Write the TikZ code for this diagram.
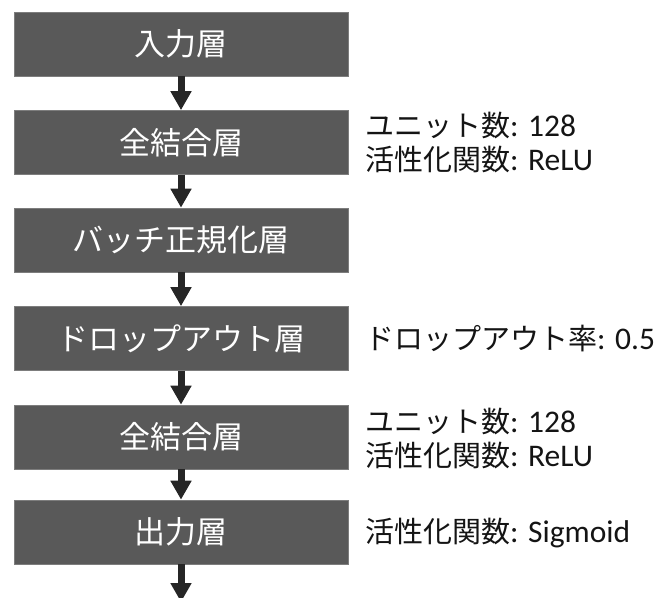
\documentclass[tikz,border=0pt]{standalone}
\usepackage{fontspec}
\setmainfont{Carlito}
\newfontfamily\cjk{Noto Sans CJK JP}
\newcommand\jptext[1]{{\cjk\fontsize{29}{34}\selectfont #1}}
\usetikzlibrary{arrows.meta}
\definecolor{boxfill}{RGB}{89,89,89}
\definecolor{boxedge}{RGB}{125,125,125}
\definecolor{arrowc}{RGB}{38,38,38}
\definecolor{labelc}{RGB}{20,20,20}
\tikzset{
  layer/.style={rectangle, fill=boxfill, draw=boxedge, line width=0.7pt,
    minimum width=334pt, minimum height=64pt, inner sep=0pt,
    text=white, font=\cjk\fontsize{31}{36}\selectfont},
  note/.style={anchor=west, inner sep=0pt, align=left, text=labelc,
    font=\fontsize{31.5}{34}\selectfont},
  flow/.style={draw=arrowc, line width=7pt,
    -{Triangle[width=20pt,length=19pt]}, arrowc}
}
\begin{document}
\begin{tikzpicture}[x=1pt,y=-1pt]
\useasboundingbox (0,0) rectangle (655,597);
\node[layer] (b1) at (181,44) {入力層};
\node[layer] (b2) at (181,142.5) {全結合層};
\node[layer] (b3) at (181,240) {バッチ正規化層};
\node[layer] (b4) at (181,338.5) {ドロップアウト層};
\node[layer] (b5) at (181,437) {全結合層};
\node[layer] (b6) at (181,532) {出力層};
\coordinate (end) at (181,602);
\draw[flow] (b1) -- (b2);
\draw[flow] (b2) -- (b3);
\draw[flow] (b3) -- (b4);
\draw[flow] (b4) -- (b5);
\draw[flow] (b5) -- (b6);
\draw[flow] (b6) -- (end);
\node[note] (n2) at (365,142.5) {\jptext{ユニット数}: 128\\\jptext{活性化関数}: ReLU};
\node[note] (n4) at (365,338.5) {\jptext{ドロップアウト率}: 0.5};
\node[note] (n5) at (365,439) {\jptext{ユニット数}: 128\\\jptext{活性化関数}: ReLU};
\node[note] (n6) at (365,533) {\jptext{活性化関数}: Sigmoid};
\end{tikzpicture}
\end{document}
